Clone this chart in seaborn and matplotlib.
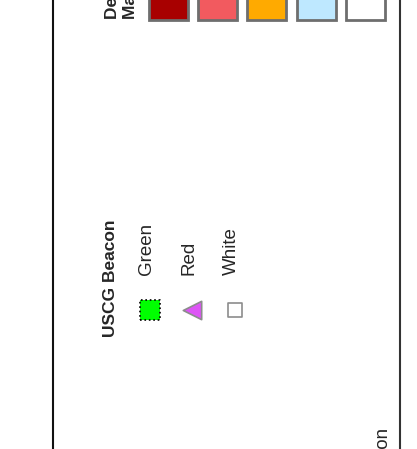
import matplotlib
matplotlib.use("Agg")
import matplotlib.pyplot as plt
from matplotlib.patches import Rectangle
import seaborn as sns
import pandas as pd

# legend content (map legend panel, shown rotated)
depth_title = "Depth Range\nMarine Area"
depth_colors = ["#A80000", "#F25A5F", "#FFAA00", "#BEE8FF", "#FFFFFF"]

beacon_title = "USCG Beacon"
beacon_labels = ["Green", "Red", "White"]
beacon_colors = ["#00FF00", "#DD55F5", "#FFFFFF"]
beacon_markers = ["s", "<", "s"]
beacon_sizes = [200, 175, 110]
beacon_edges = ["#000000", "#8C8C8C", "#8C8C8C"]
beacon_styles = [":", "-", "-"]

footer_text = "Projection"

sns.set_style("white")
plt.rcParams["font.family"] = ["Liberation Sans", "DejaVu Sans"]

W, H = 417, 449
fig = plt.figure(figsize=(W / 100, H / 100), dpi=100)
ax = fig.add_axes([0, 0, 1, 1])

# beacon legend markers
for i, lab in enumerate(beacon_labels):
    xc = 150 + i * 42.5
    df = pd.DataFrame({"x": [xc], "y": [310]})
    sns.scatterplot(data=df, x="x", y="y", ax=ax, marker=beacon_markers[i],
                    s=beacon_sizes[i], color=beacon_colors[i],
                    edgecolor=beacon_edges[i], linewidth=1.2,
                    linestyle=beacon_styles[i], legend=False)
    ax.text(xc - 3.5, 275, lab, rotation=90, ha="center", va="bottom", fontsize=13.5)

ax.set_xlim(0, W)
ax.set_ylim(H, 0)
ax.axis("off")

# frame lines
ax.axvline(53, color="#111111", lw=1.5)
ax.axvline(400, color="#333333", lw=1.5)

# depth / marine area swatches
ax.text(105.5, 19, depth_title, rotation=90, ha="left", va="bottom",
        fontsize=12.5, fontweight="bold", linespacing=1.2, multialignment="left")
for i, c in enumerate(depth_colors):
    x0 = 149 + i * 49.2
    ax.add_patch(Rectangle((x0, -30), 39, 50, facecolor=c,
                           edgecolor="#6E6E6E", lw=2))

ax.text(111, 337, beacon_title, rotation=90, ha="center", va="bottom",
        fontsize=12.5, fontweight="bold")

# footer text cut by the figure edge
ax.text(382, 426, footer_text, rotation=90, ha="center", va="top", fontsize=13.5)

fig.savefig("out.png", dpi=100)
